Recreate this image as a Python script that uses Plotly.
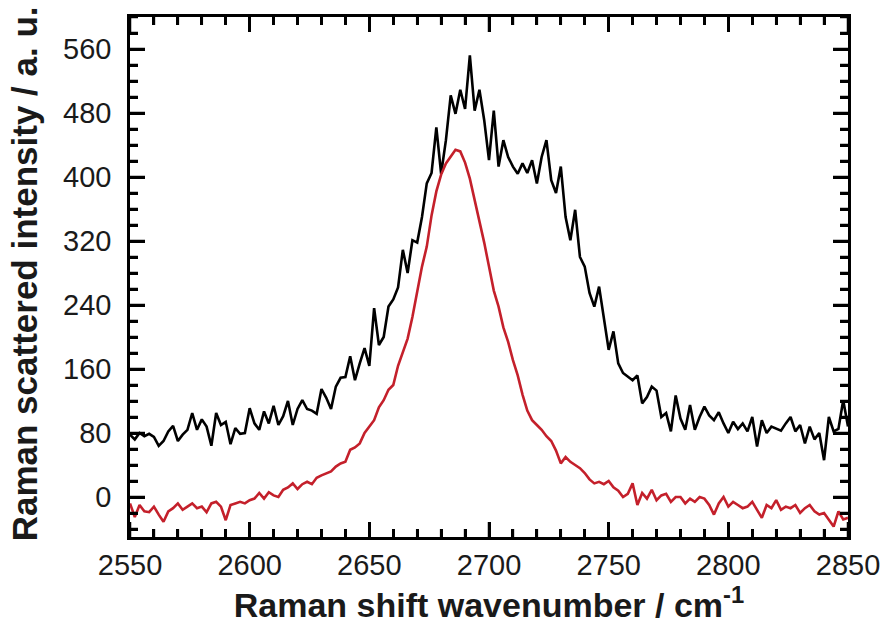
import plotly.graph_objects as go

wavenumber = list(range(2550, 2852, 2))

black_intensity = [
    78, 72, 80, 76, 79, 75, 64, 70, 82, 89,
    70, 78, 84, 105, 84, 97, 88, 64, 105, 90,
    94, 66, 86, 79, 80, 111, 92, 84, 107, 92,
    114, 90, 101, 120, 90, 110, 121, 110, 108, 104,
    135, 124, 110, 138, 149, 150, 176, 146, 167, 186,
    164, 236, 190, 200, 238, 247, 262, 309, 280, 321,
    318, 350, 392, 405, 462, 404, 446, 502, 479, 509,
    485, 552, 483, 509, 471, 421, 483, 413, 446, 425,
    413, 404, 417, 405, 421, 392, 425, 446, 396, 380,
    413, 350, 321, 359, 300, 288, 255, 238, 263, 221,
    184, 207, 167, 155, 150, 146, 152, 117, 125, 138,
    133, 100, 105, 82, 127, 98, 84, 115, 84, 100,
    113, 102, 96, 106, 92, 80, 94, 85, 92, 82,
    100, 63, 96, 80, 88, 85, 83, 92, 100, 82,
    90, 67, 88, 72, 80, 46, 100, 82, 85, 121,
    88,
]

red_intensity = [
    -8, -25, -10, -18, -19, -12, -22, -31, -18, -14,
    -8, -16, -12, -8, -14, -12, -19, -8, -6, -12,
    -29, -10, -8, -6, -8, -4, -2, 5, -2, 6,
    2, 0, 9, 12, 17, 10, 16, 19, 16, 24,
    27, 30, 32, 38, 42, 44, 59, 62, 67, 80,
    88, 96, 112, 121, 134, 140, 164, 182, 198, 225,
    258, 288, 313, 352, 382, 403, 417, 426, 434, 432,
    418, 398, 372, 342, 318, 288, 258, 238, 212, 194,
    171, 152, 128, 108, 96, 90, 84, 76, 70, 58,
    42, 50, 44, 40, 36, 30, 22, 17, 19, 16,
    20, 12, 8, 0, 4, 17, -10, 5, -2, 9,
    -4, 2, 4, -6, 0, 0, -8, -2, -6, 0,
    -2, -10, -22, -8, 0, -12, -6, -10, -14, -12,
    -6, -16, -26, -10, -14, -4, -16, -12, -14, -10,
    -20, -14, -10, -18, -22, -20, -28, -37, -18, -28,
    -26,
]

x_range = [2550, 2850]
y_range = [-50, 600]
x_tick_start, x_tick_step, x_minor_step = 2550, 50, 10
y_tick_start, y_tick_step, y_minor_step = 0, 80, 20

font_family = "Liberation Sans, Arial, sans-serif"
major_len, minor_len, tick_w = 15, 8, 2.5
W, H = 885, 624
M = dict(l=130, r=37, t=17, b=87)
plot_w = W - M["l"] - M["r"]
plot_h = H - M["t"] - M["b"]
x_per_px = (x_range[1] - x_range[0]) / plot_w
y_per_px = (y_range[1] - y_range[0]) / plot_h

fig = go.Figure()
fig.add_trace(go.Scatter(x=wavenumber, y=black_intensity, mode="lines",
                         line=dict(color="black", width=2.6), showlegend=False))
fig.add_trace(go.Scatter(x=wavenumber, y=red_intensity, mode="lines",
                         line=dict(color="#c4202b", width=2.6), showlegend=False))

# inward frame tick marks, derived from the axis tick spacing
tx, ty = [], []
for v in range(x_range[0], x_range[1] + 1, x_minor_step):
    L = major_len if (v - x_tick_start) % x_tick_step == 0 else minor_len
    tx += [v, v, None, v, v, None]
    ty += [y_range[0], y_range[0] + L * y_per_px, None,
           y_range[1], y_range[1] - L * y_per_px, None]
for v in range(-40, y_range[1] + 1, y_minor_step):
    L = major_len if (v - y_tick_start) % y_tick_step == 0 else minor_len
    tx += [x_range[0], x_range[0] + L * x_per_px, None,
           x_range[1], x_range[1] - L * x_per_px, None]
    ty += [v, v, None, v, v, None]
fig.add_trace(go.Scatter(x=tx, y=ty, mode="lines", line=dict(color="black", width=tick_w),
                         showlegend=False, hoverinfo="skip", connectgaps=False))

axis_common = dict(
    tickmode="linear", showline=True, linecolor="black", linewidth=2.5, mirror="ticks",
    ticks="inside", ticklen=major_len, tickwidth=tick_w, tickcolor="black",
    showgrid=False, zeroline=False,
    tickfont=dict(family=font_family, size=29, color="#1a1a1a"),
)

fig.update_xaxes(
    range=x_range, tick0=x_tick_start, dtick=x_tick_step,
    minor=dict(ticks="inside", ticklen=minor_len, tickwidth=tick_w, tickcolor="black",
               dtick=x_minor_step, showgrid=False),
    title=dict(text="<b>Raman shift wavenumber / cm<sup>-1</sup></b>",
               font=dict(family=font_family, size=34, color="#1a1a1a"), standoff=8),
    **axis_common,
)
fig.update_yaxes(
    range=y_range, tick0=y_tick_start, dtick=y_tick_step,
    minor=dict(ticks="inside", ticklen=minor_len, tickwidth=tick_w, tickcolor="black",
               dtick=y_minor_step, showgrid=False),
    ticklabelstandoff=10,
    **axis_common,
)

fig.update_layout(
    width=W, height=H,
    margin=dict(**M, autoexpand=False),
    plot_bgcolor="white", paper_bgcolor="white",
    annotations=[dict(
        text="<b>Raman scattered intensity / a. u.</b>", textangle=-90,
        xref="paper", yref="paper", x=-0.147, y=0.506,
        xanchor="center", yanchor="middle", showarrow=False,
        font=dict(family=font_family, size=35, color="#1a1a1a"),
    )],
)

fig.write_html("out.html")
